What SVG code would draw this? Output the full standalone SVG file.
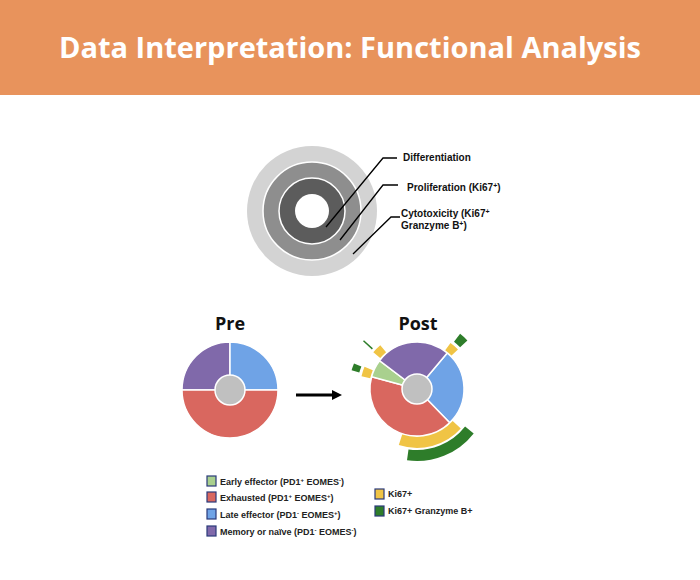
<svg xmlns="http://www.w3.org/2000/svg" width="700" height="580" viewBox="0 0 700 580">
<style>
text{font-family:"Liberation Sans",Arial,sans-serif}
.lbl{font-size:10px;font-weight:bold;fill:#111}
.leg{font-size:9px;font-weight:bold;fill:#222}
.ld{stroke:#000;stroke-width:1.3;fill:none}
.sq{stroke:#2a3a7a;stroke-width:1.2}
.w{stroke:#fff;stroke-width:1.5}
</style>
<rect width="700" height="580" fill="#fff"/>
<rect width="700" height="95" fill="#E8935C"/>
<text x="350" y="58" text-anchor="middle" style="font-family:'Open Sans','Liberation Sans',sans-serif;font-size:29px;font-weight:bold;fill:#fff">Data Interpretation: Functional Analysis</text>
<g id="rings">
<circle cx="312" cy="211" r="65" fill="#d3d3d3"/>
<circle cx="312" cy="211" r="49" fill="#8e8e8e" class="w"/>
<circle cx="312" cy="211" r="33" fill="#5c5c5c" class="w"/>
<circle cx="312" cy="211" r="17" fill="#fff"/>
</g>
<g id="connectors">
<polyline class="ld" points="326,227 383,158 397,158"/>
<polyline class="ld" points="340,240 383,185 398,185"/>
<polyline class="ld" points="353,254 391,217 400,217"/>
<line x1="296" y1="395" x2="334" y2="395" stroke="#000" stroke-width="3"/>
<polygon points="342,395 332,390 332,400" fill="#000"/>
</g>
<g id="ring-labels">
<text class="lbl" x="403" y="161">Differentiation</text>
<text class="lbl" x="407" y="191">Proliferation (Ki67<tspan dy="-3" font-size="7">+</tspan><tspan dy="3">)</tspan></text>
<text class="lbl" x="401" y="217">Cytotoxicity (Ki67<tspan dy="-3" font-size="7">+</tspan></text>
<text class="lbl" x="401" y="229">Granzyme B<tspan dy="-3" font-size="7">+</tspan><tspan dy="3">)</tspan></text>
</g>
<g id="pre">
<text x="230" y="330" text-anchor="middle" style="font-size:18px;font-weight:bold;fill:#111;font-family:'Open Sans','Liberation Sans',sans-serif">Pre</text>
<path d="M230 390 L182 390 A48 48 0 0 1 230 342 Z" fill="#8069AA" class="w"/>
<path d="M230 390 L230 342 A48 48 0 0 1 278 390 Z" fill="#6FA3E6" class="w"/>
<path d="M230 390 L278 390 A48 48 0 0 1 182 390 Z" fill="#D9675F" class="w"/>
<circle cx="230" cy="390" r="15" fill="#c0c0c0" class="w"/>
</g>
<g id="post">
<text x="418" y="330" text-anchor="middle" style="font-size:18px;font-weight:bold;fill:#111;font-family:'Open Sans','Liberation Sans',sans-serif">Post</text>
<path d="M417 389 L447.2 353 A47 47 0 0 1 449.7 422.8 Z" fill="#6FA3E6" class="w"/>
<path d="M417 389 L449.7 422.8 A47 47 0 0 1 371.6 376.8 Z" fill="#D9675F" class="w"/>
<path d="M417 389 L371.6 376.8 A47 47 0 0 1 379.5 360.7 Z" fill="#A9D08E" class="w"/>
<path d="M417 389 L379.5 360.7 A47 47 0 0 1 447.2 353 Z" fill="#8069AA" class="w"/>
<circle cx="417" cy="389" r="15" fill="#c0c0c0" class="w"/>
<path d="M460.8 428.5 A59 59 0 0 1 398.8 445.1 L402.2 434.6 A48 48 0 0 0 452.7 421.1 Z" fill="#F0C445"/>
<path d="M473.7 433.4 A72 72 0 0 1 407 460.3 L408.5 449.4 A61 61 0 0 0 465.1 426.6 Z" fill="#2E7D2A"/>
<path d="M450.5 342.9 A57 57 0 0 1 458 349.4 L451.5 355.6 A48 48 0 0 0 445.2 350.2 Z" fill="#F0C445"/>
<path d="M460.1 333.8 A70 70 0 0 1 467.4 340.4 L460.1 347.3 A60 60 0 0 0 454 341.7 Z" fill="#2E7D2A"/>
<path d="M361.5 376.2 A57 57 0 0 1 364.5 366.7 L372.8 370.2 A48 48 0 0 0 370.2 378.2 Z" fill="#F0C445"/>
<path d="M351.6 370.2 A68 68 0 0 1 354 363.5 L361.4 366.5 A60 60 0 0 0 359.3 372.4 Z" fill="#2E7D2A"/>
<path d="M373.3 352.3 A57 57 0 0 1 380.3 345.3 L386.1 352.2 A48 48 0 0 0 380.2 358.1 Z" fill="#F0C445"/>
<line x1="372.4" y1="348.9" x2="363.5" y2="340.8" stroke="#2E7D2A" stroke-width="1.5"/>
</g>
<g id="legend">
<rect class="sq" x="207" y="476" width="9" height="10" fill="#A9D08E"/>
<text class="leg" x="220" y="485">Early effector (PD1<tspan dy="-3" font-size="6">+</tspan><tspan dy="3"> EOMES</tspan><tspan dy="-3" font-size="6">-</tspan><tspan dy="3">)</tspan></text>
<rect class="sq" x="207" y="492" width="9" height="10" fill="#D9675F"/>
<text class="leg" x="220" y="501">Exhausted (PD1<tspan dy="-3" font-size="6">+</tspan><tspan dy="3"> EOMES</tspan><tspan dy="-3" font-size="6">+</tspan><tspan dy="3">)</tspan></text>
<rect class="sq" x="207" y="509" width="9" height="10" fill="#6FA3E6"/>
<text class="leg" x="220" y="518">Late effector (PD1<tspan dy="-3" font-size="6">-</tspan><tspan dy="3"> EOMES</tspan><tspan dy="-3" font-size="6">+</tspan><tspan dy="3">)</tspan></text>
<rect class="sq" x="207" y="526" width="9" height="10" fill="#8069AA"/>
<text class="leg" x="220" y="535">Memory or naïve (PD1<tspan dy="-3" font-size="6">-</tspan><tspan dy="3"> EOMES</tspan><tspan dy="-3" font-size="6">-</tspan><tspan dy="3">)</tspan></text>
<rect class="sq" x="375" y="489" width="9" height="10" fill="#F0C445"/>
<text class="leg" x="388" y="497">Ki67+</text>
<rect class="sq" x="375" y="506" width="9" height="10" fill="#2E7D2A"/>
<text class="leg" x="388" y="514">Ki67+ Granzyme B+</text>
</g>
</svg>
